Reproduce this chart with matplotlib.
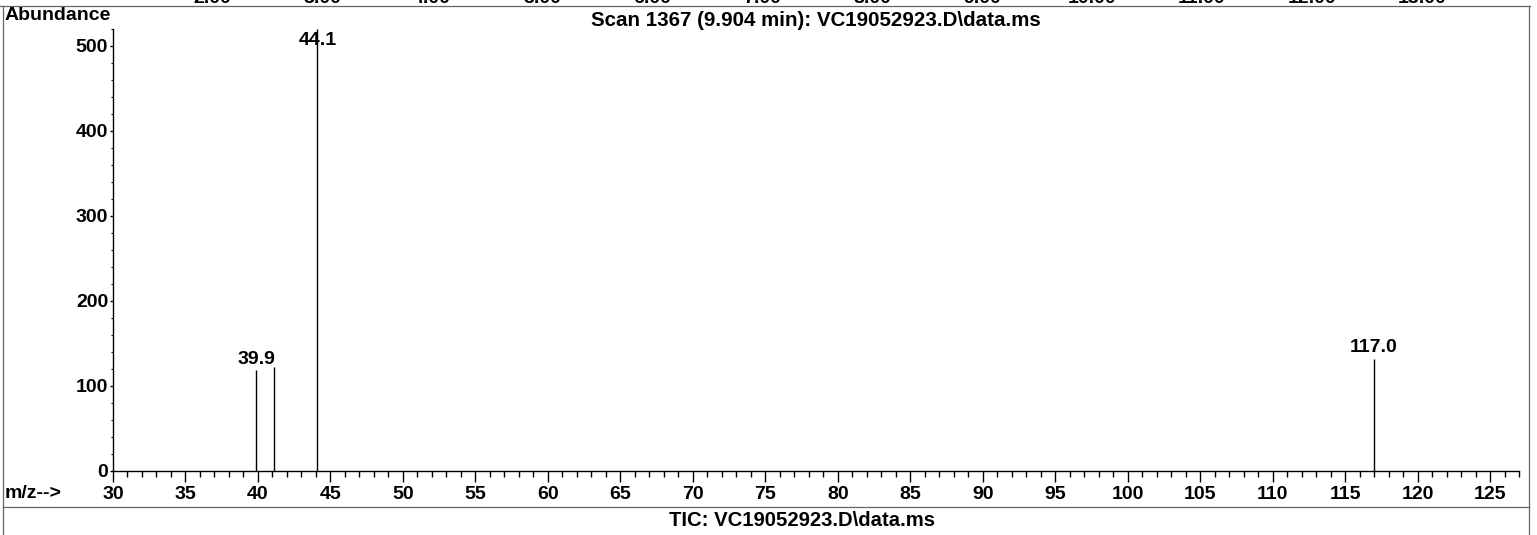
import matplotlib.pyplot as plt
from matplotlib.ticker import MultipleLocator

plt.rcParams['font.family'] = ['Liberation Sans', 'DejaVu Sans']
plt.rcParams['font.weight'] = 'bold'

# peaks of the mass spectrum
mz = [39.9, 41.1, 44.1, 117.0]
abundance = [119, 122, 520, 132]
labelled = [True, False, True, True]

# retention time ticks of the chromatogram above (cut off at the top)
rt_ticks = [2, 3, 4, 5, 6, 7, 8, 9, 10, 11, 12, 13]

title = "Scan 1367 (9.904 min): VC19052923.D\\data.ms"
footer = "TIC: VC19052923.D\\data.ms"

W, H = 1537, 535
fs = 14

fig = plt.figure(figsize=(W / 100, H / 100), dpi=100)

# background layer in pixel coords for the frame and loose text
bg = fig.add_axes([0, 0, 1, 1], zorder=0)
bg.set_xlim(0, W)
bg.set_ylim(H, 0)
bg.axis('off')
frame = dict(color='0.4', lw=0.9)
bg.plot([0, 1530], [6, 6], **frame)
bg.plot([3, 3], [6, H], **frame)
bg.plot([1529, 1529], [6, H], **frame)
bg.plot([3, 1529], [507, 507], **frame)
for t in rt_ticks:
    bg.text(432 + (t - 4) * 110, 3, '%.2f' % t, fontsize=fs, ha='center', va='baseline')
bg.text(5, 15, 'Abundance', fontsize=fs, ha='left', va='center')
bg.text(5, 494, 'm/z-->', fontsize=fs, ha='left', va='center')
bg.text(802, 521, footer, fontsize=14.6, ha='center', va='center')
bg.text(816, 21, title, fontsize=14.8, ha='center', va='center')

ax = fig.add_axes([113 / W, (H - 470.7) / H, 1406 / W, 441.7 / H], zorder=1)
ax.patch.set_alpha(0)
ax.vlines(mz, 0, abundance, color='black', lw=1)
ymax = 520
for x, y, lab in zip(mz, abundance, labelled):
    if lab:
        ax.annotate('%.1f' % x, (x, min(y, ymax * 0.95)), xytext=(0, 1.5),
                    textcoords='offset points', ha='center', va='bottom', fontsize=fs)

ax.set_xlim(30, 127)
ax.set_ylim(0, ymax)
ax.spines['top'].set_visible(False)
ax.spines['right'].set_visible(False)
for s in ['left', 'bottom']:
    ax.spines[s].set_linewidth(1)

ax.xaxis.set_major_locator(MultipleLocator(5))
ax.xaxis.set_minor_locator(MultipleLocator(1))
ax.yaxis.set_major_locator(MultipleLocator(100))
ax.yaxis.set_minor_locator(MultipleLocator(20))
ax.set_xticks(range(30, 126, 5))
ax.tick_params(axis='x', which='major', length=8, width=1, pad=3, labelsize=fs)
ax.tick_params(axis='x', which='minor', length=4.5, width=1)
ax.tick_params(axis='y', which='major', length=2.5, width=1, pad=1, labelsize=fs)
ax.tick_params(axis='y', which='minor', length=1.5, width=0.8)

fig.savefig('out.png', dpi=100)
